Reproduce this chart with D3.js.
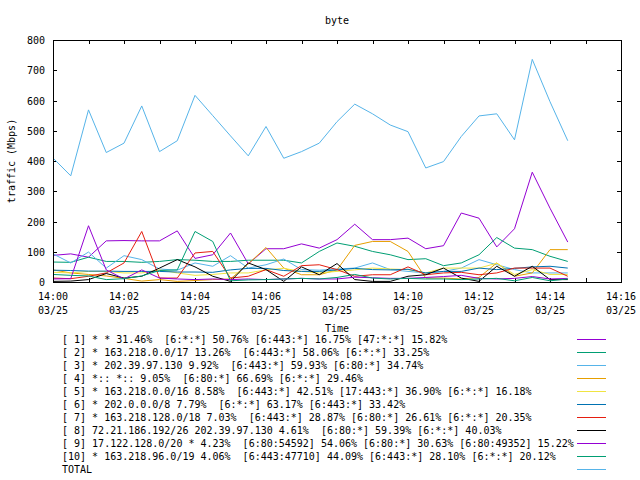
<!DOCTYPE html>
<html>
<head>
<meta charset="utf-8">
<script src="https://cdn.jsdelivr.net/npm/d3@7"></script>
<style>
  html, body { margin: 0; padding: 0; background: #fff; }
  svg { display: block; }
  text { font-family: "DejaVu Sans Mono", "Liberation Mono", monospace; font-size: 10px; fill: #000; }
</style>
</head>
<body>
<svg id="chart" width="640" height="480"></svg>
<script>
// ---------------- data ----------------
const title = "byte";
const yLabel = "traffic (Mbps)";
const xLabel = "Time";
const dateLabel = "03/25";
const times = ["14:00:00","14:00:30","14:01:00","14:01:30","14:02:00","14:02:30","14:03:00","14:03:30",
  "14:04:00","14:04:30","14:05:00","14:05:30","14:06:00","14:06:30","14:07:00","14:07:30",
  "14:08:00","14:08:30","14:09:00","14:09:30","14:10:00","14:10:30","14:11:00","14:11:30",
  "14:12:00","14:12:30","14:13:00","14:13:30","14:14:00","14:14:30"];
const xTickLabels = ["14:00","14:02","14:04","14:06","14:08","14:10","14:12","14:14","14:16"];
const xMinorTicks = ["14:01","14:03","14:05","14:07","14:09","14:11","14:13","14:15"];
const yTicks = [0,100,200,300,400,500,600,700,800];

const s1  = [88,93,82,136,137,136,136,169,78,90,162,60,110,110,126,112,140,191,140,140,145,110,120,228,211,116,176,363,244,132];
const s2  = [66,65,82,68,68,65,68,74,72,68,68,72,72,72,63,101,129,118,101,90,74,77,54,63,90,147,112,107,85,68];
const s3  = [93,63,99,46,87,74,43,39,63,52,87,46,57,76,41,39,43,46,63,41,35,30,35,46,74,57,41,30,30,30];
const s4  = [40,30,25,20,12,3,8,2,5,8,10,60,114,46,24,24,40,121,134,134,101,13,13,10,15,63,19,30,107,107];
const s5  = [32,30,35,35,30,30,40,30,22,25,30,30,40,45,35,30,35,40,46,43,41,30,46,46,46,62,25,41,25,25];
const s6  = [39,38,36,36,35,35,35,33,33,32,40,45,45,38,35,35,40,45,41,40,42,30,35,35,46,41,45,50,52,46];
const s7  = [13,11,19,30,63,167,13,13,96,101,13,19,41,19,54,57,41,19,24,24,50,24,30,32,24,30,46,46,46,19];
const s8  = [2,3,8,28,13,19,46,74,50,19,2,63,41,2,50,24,61,8,2,2,19,24,46,13,2,52,19,52,8,8];
const s9  = [10,11,186,40,10,40,13,10,8,10,8,10,8,10,12,10,10,16,14,12,12,15,18,22,12,10,12,18,10,12];
const s10 = [25,22,20,8,11,20,38,40,167,134,4,7,8,10,12,10,15,25,13,10,12,10,10,8,10,12,4,15,4,10];
const total = [410,351,569,428,459,582,431,467,617,550,483,417,514,409,431,459,530,588,556,519,497,377,398,481,549,556,470,736,596,467];

const legendLabels = [
  "[ 1] * * 31.46%  [6:*:*] 50.76% [6:443:*] 16.75% [47:*:*] 15.82%",
  "[ 2] * 163.218.0.0/17 13.26%  [6:443:*] 58.06% [6:*:*] 33.25%",
  "[ 3] * 202.39.97.130 9.92%  [6:443:*] 59.93% [6:80:*] 34.74%",
  "[ 4] *:: *:: 9.05%  [6:80:*] 66.69% [6:*:*] 29.46%",
  "[ 5] * 163.218.0.0/16 8.58%  [6:443:*] 42.51% [17:443:*] 36.90% [6:*:*] 16.18%",
  "[ 6] * 202.0.0.0/8 7.79%  [6:*:*] 63.17% [6:443:*] 33.42%",
  "[ 7] * 163.218.128.0/18 7.03%  [6:443:*] 28.87% [6:80:*] 26.61% [6:*:*] 20.35%",
  "[ 8] 72.21.186.192/26 202.39.97.130 4.61%  [6:80:*] 59.39% [6:*:*] 40.03%",
  "[ 9] 17.122.128.0/20 * 4.23%  [6:80:54592] 54.06% [6:80:*] 30.63% [6:80:49352] 15.22%",
  "[10] * 163.218.96.0/19 4.06%  [6:443:47710] 44.09% [6:443:*] 28.10% [6:*:*] 20.12%",
  "TOTAL"
];
const colors = ["#9400D3","#009E73","#56B4E9","#E69F00","#F0E442","#0072B2","#E51E10","#000000","#9400D3","#009E73","#56B4E9"];
const seriesList = [s1,s2,s3,s4,s5,s6,s7,s8,s9,s10,total];

// ---------------- layout ----------------
const L = 53, R = 621, T = 40, B = 282;
const svg = d3.select("#chart");
const parseT = d3.timeParse("%H:%M:%S");
const parseM = d3.timeParse("%H:%M");
const x = d3.scaleTime().domain([parseM("14:00"), parseM("14:16")]).range([L, R]);
const y = d3.scaleLinear().domain([0, 800]).range([B, T]);

// title
svg.append("text").attr("x", (L + R) / 2).attr("y", 20).attr("text-anchor", "middle")
  .attr("dominant-baseline", "central").text(title);

// axes ticks (inward)
const allX = xTickLabels.concat(xMinorTicks).map(parseM);
const gB = svg.append("g").attr("transform", `translate(0,${B})`)
  .call(d3.axisBottom(x).tickValues(allX).tickSizeInner(-4).tickSizeOuter(0).tickFormat(""));
const gT = svg.append("g").attr("transform", `translate(0,${T})`)
  .call(d3.axisTop(x).tickValues(allX).tickSizeInner(-4).tickSizeOuter(0).tickFormat(""));
const gL = svg.append("g").attr("transform", `translate(${L},0)`)
  .call(d3.axisLeft(y).tickValues(yTicks).tickSizeInner(-4).tickSizeOuter(0).tickPadding(8));
const gR = svg.append("g").attr("transform", `translate(${R},0)`)
  .call(d3.axisRight(y).tickValues(yTicks).tickSizeInner(-4).tickSizeOuter(0).tickFormat(""));
[gB, gT, gL, gR].forEach(g => {
  g.select(".domain").remove();
  g.selectAll(".tick line").attr("stroke", "#000").attr("shape-rendering", "crispEdges");
  g.selectAll("text").attr("font-family", null).attr("font-size", null);
});
gL.attr("font-family", null).attr("font-size", null);
gL.selectAll("text").attr("dy", null).attr("dominant-baseline", "central");

// x tick labels (two lines)
const xl = svg.append("g");
xTickLabels.forEach(lbl => {
  const px = x(parseM(lbl));
  xl.append("text").attr("x", px).attr("y", 296).attr("text-anchor", "middle")
    .attr("dominant-baseline", "central").text(lbl);
  xl.append("text").attr("x", px).attr("y", 310).attr("text-anchor", "middle")
    .attr("dominant-baseline", "central").text(dateLabel);
});

// axis titles
svg.append("text").attr("x", (L + R) / 2).attr("y", 328).attr("text-anchor", "middle")
  .attr("dominant-baseline", "central").text(xLabel);
svg.append("text").attr("transform", `translate(11,${(T + B) / 2}) rotate(-90)`)
  .attr("text-anchor", "middle").attr("dominant-baseline", "central").text(yLabel);

// lines
const line = d3.line().x((d, i) => x(parseT(times[i]))).y(d => y(d));
const gLines = svg.append("g");
seriesList.forEach((s, k) => {
  gLines.append("path").datum(s).attr("d", line).attr("fill", "none")
    .attr("stroke", colors[k]).attr("stroke-width", 1);
});

// border
svg.append("rect").attr("x", L + 0.5).attr("y", T + 0.5).attr("width", R - L).attr("height", B - T)
  .attr("fill", "none").attr("stroke", "#000").attr("stroke-width", 1);

// legend
const gLeg = svg.append("g");
legendLabels.forEach((lbl, i) => {
  const cy = 339 + 13 * i;
  gLeg.append("text").attr("x", 62).attr("y", cy).attr("dominant-baseline", "central")
    .attr("xml:space", "preserve").style("white-space", "pre").text(lbl);
  gLeg.append("line").attr("x1", 577).attr("x2", 606).attr("y1", cy + 0.5).attr("y2", cy + 0.5)
    .attr("stroke", colors[i]).attr("stroke-width", 1);
});
</script>
</body>
</html>
